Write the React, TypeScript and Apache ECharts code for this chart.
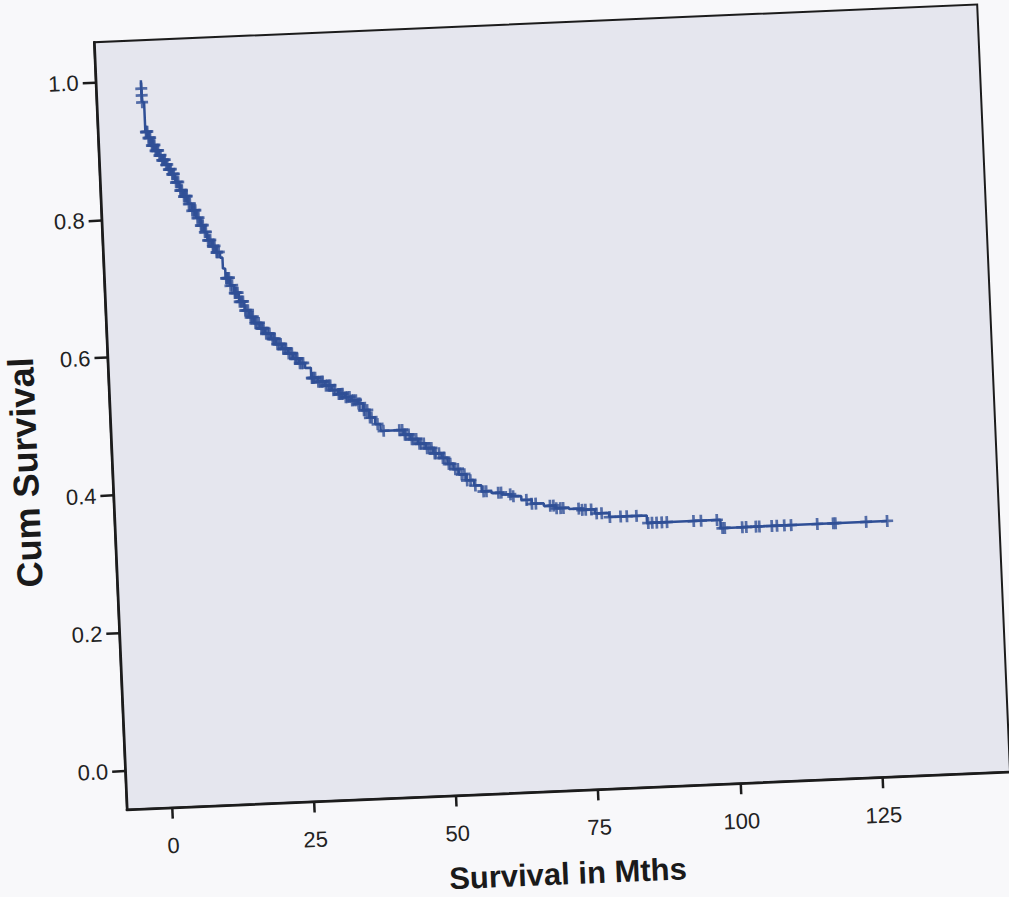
import React, { useEffect, useRef } from "react";
import * as echarts from "echarts";

// Kaplan-Meier steps: time of event (months) and survival after the step
const eventTimes = [
  0, 0.02, 0.04, 0.4, 0.9, 1.4, 2.0, 2.6, 3.1, 3.7, 4.2, 4.7, 5.3, 6.0, 6.6, 7.3, 8.0, 8.7, 9.4, 10.0,
  10.5, 11.2, 11.9, 12.6, 13.0, 13.4, 14.1, 14.8, 15.6, 16.5, 17.3, 18.1, 19.0, 19.9, 20.9, 21.8, 22.8,
  23.8, 24.7, 25.7, 26.7, 27.7, 28.8, 30.0, 31.2, 32.3, 33.5, 34.6, 35.7, 36.6, 37.6, 38.6, 39.5, 43.5,
  44.7, 46.0, 47.3, 48.6, 50.0, 51.0, 52.0, 52.9, 54.2, 55.5, 56.8, 58.5, 60.3, 62.0, 63.7, 65.5, 67.6,
  69.7, 72.0, 74.2, 76.5, 79.0, 85.6, 98.5,
];
const survivalAfter = [
  0.988, 0.978, 0.968, 0.925, 0.916, 0.905, 0.897, 0.89, 0.883, 0.876, 0.869, 0.862, 0.85, 0.838, 0.829,
  0.818, 0.808, 0.797, 0.786, 0.776, 0.764, 0.755, 0.746, 0.738, 0.722, 0.708, 0.697, 0.686, 0.673, 0.66,
  0.65, 0.641, 0.633, 0.625, 0.617, 0.609, 0.602, 0.595, 0.587, 0.58, 0.573, 0.558, 0.552, 0.546, 0.539,
  0.533, 0.528, 0.523, 0.518, 0.508, 0.497, 0.487, 0.477, 0.47, 0.463, 0.456, 0.449, 0.441, 0.434, 0.425,
  0.417, 0.409, 0.4, 0.392, 0.383, 0.38, 0.377, 0.374, 0.368, 0.362, 0.358, 0.354, 0.352, 0.35, 0.344,
  0.338, 0.327, 0.315,
];
const lastFollowUp = 127.8;

// censored cases (months)
const censorTimes = [
  0.01, 0.03, 0.05, 0.5, 0.6, 0.75, 0.9, 1.05, 1.2, 1.45, 1.6, 1.75, 1.9, 2.05, 2.2, 2.35, 2.5, 2.7, 2.9,
  3.15, 3.3, 3.45, 3.6, 3.8, 4.0, 4.25, 4.4, 4.6, 4.8, 4.95, 5.1, 5.4, 5.6, 5.8, 6.1, 6.25, 6.4, 6.7, 6.9,
  7.05, 7.2, 7.5, 7.7, 8.05, 8.3, 8.45, 8.6, 8.9, 9.1, 9.45, 9.6, 9.8, 10.1, 10.3, 10.6, 10.8, 11.0,
  11.4, 11.5, 11.7, 12.0, 12.1, 12.4, 13.5, 13.6, 13.8, 14.0, 14.2, 14.5, 14.9, 15.0, 15.2, 15.4, 15.7,
  15.9, 16.1, 16.3, 16.6, 16.8, 17.1, 17.5, 17.7, 17.9, 18.3, 18.5, 18.9, 19.3, 19.5, 19.7, 20.1, 20.4,
  20.7, 21.2, 21.4, 21.6, 22.0, 22.3, 22.6, 23.0, 23.3, 23.5, 23.9, 24.2, 24.5, 25.0, 25.2, 25.4, 25.8,
  26.1, 26.4, 27.8, 27.9, 28.1, 28.4, 28.9, 29.2, 29.5, 29.7, 30.2, 30.5, 30.8, 31.0, 31.5, 31.8, 32.4,
  32.6, 32.9, 33.1, 33.6, 33.9, 34.3, 34.7, 35.0, 35.4, 35.8, 36.1, 36.7, 36.9, 37.3, 37.7, 38.0, 39.0,
  40.0, 42.8, 43.3, 43.7, 43.9, 44.4, 44.9, 45.2, 45.7, 46.2, 46.5, 47.0, 47.5, 47.9, 48.3, 48.8, 49.0,
  49.6, 50.2, 50.5, 51.2, 51.5, 52.3, 52.8, 53.4, 53.9, 54.3, 54.9, 55.7, 57.1, 57.6, 59.7, 60.2, 61.8,
  62.3, 64.6, 65.5, 66.2, 68.7, 69.3, 69.8, 70.5, 71.0, 73.7, 74.3, 74.9, 75.9, 76.8, 77.7, 79.1, 81.0,
  82.1, 83.8, 85.8, 86.5, 87.3, 88.2, 89.1, 93.8, 95.1, 97.9, 98.8, 99.2, 102.3, 103.0, 104.7, 105.3,
  107.5, 108.4, 109.7, 110.9, 115.5, 118.3, 118.7, 124.1, 127.8,
];

const xTicks = [0, 25, 50, 75, 100, 125];
const yTicks = [0, 0.2, 0.4, 0.6, 0.8, 1.0];
const xTitle = "Survival in Mths";
const yTitle = "Cum Survival";

const LINE = "#2f4f96";
const PLUS = "path://M4.25,0h2.5v4.25h4.25v2.5h-4.25v4.25h-2.5v-4.25h-4.25v-2.5h4.25z";

function survAt(t: number): number {
  let s = 1;
  for (let i = 0; i < eventTimes.length; i++) {
    if (eventTimes[i] <= t) s = survivalAfter[i];
  }
  return s;
}

export default function App() {
  const ref = useRef<HTMLDivElement>(null);
  useEffect(() => {
    if (!ref.current) return;
    const chart = echarts.init(ref.current, undefined, { renderer: "svg" });
    const steps: number[][] = [[0, 1]];
    let prev = 1;
    eventTimes.forEach((t, i) => {
      steps.push([t, prev]);
      steps.push([t, survivalAfter[i]]);
      prev = survivalAfter[i];
    });
    steps.push([lastFollowUp, prev]);
    const censored = censorTimes.map((t) => [t, survAt(t)]);
    const font = "'Liberation Sans', Arial, sans-serif";
    chart.setOption({
      animation: false,
      grid: {
        left: 110,
        top: 23,
        width: 884,
        height: 768,
        show: true,
        backgroundColor: "#e5e6ee",
        borderColor: "#1c1c1c",
        borderWidth: 2,
      },
      graphic: [
        {
          type: "text",
          x: 548,
          y: 874,
          style: {
            text: xTitle,
            fill: "#1a1a1a",
            font: `bold 31px ${font}`,
            align: "center",
            verticalAlign: "middle",
          },
        },
        {
          type: "text",
          x: 23,
          y: 450,
          rotation: Math.PI / 2,
          style: {
            text: yTitle,
            fill: "#1a1a1a",
            font: `bold 36px ${font}`,
            align: "center",
            verticalAlign: "middle",
          },
        },
      ],
      xAxis: {
        type: "value",
        min: -7.95,
        max: 147.5,
        axisLine: { show: true, onZero: false, lineStyle: { color: "#1c1c1c", width: 2.5 } },
        axisTick: { show: true, customValues: xTicks, length: 11, lineStyle: { color: "#1c1c1c", width: 2.5 } },
        axisLabel: { customValues: xTicks, fontSize: 22, color: "#222", margin: 27, fontFamily: font },
        splitLine: { show: false },
      },
      yAxis: {
        type: "value",
        min: -0.056,
        max: 1.058,
        axisLine: { show: true, onZero: false, lineStyle: { color: "#1c1c1c", width: 2.5 } },
        axisTick: { show: true, customValues: yTicks, length: 13, lineStyle: { color: "#1c1c1c", width: 2.5 } },
        axisLabel: {
          customValues: yTicks,
          fontSize: 22,
          color: "#222",
          margin: 17,
          fontFamily: font,
          formatter: (v: number) => v.toFixed(1),
        },
        splitLine: { show: false },
      },
      series: [
        {
          type: "line",
          data: steps,
          showSymbol: false,
          lineStyle: { color: LINE, width: 2.5 },
          silent: true,
        },
        {
          type: "scatter",
          data: censored,
          symbol: PLUS,
          symbolSize: 12,
          itemStyle: { color: LINE },
          silent: true,
        },
      ],
    });
    return () => chart.dispose();
  }, []);
  return (
    <div style={{ position: "fixed", left: 0, top: 0, width: 1009, height: 897, background: "#f8f8fa", overflow: "hidden" }}>
      <div
        ref={ref}
        style={{
          position: "absolute",
          left: 0,
          top: 0,
          width: 1009,
          height: 897,
          transform: "rotate(-2.45deg)",
          transformOrigin: "552px 407px",
        }}
      />
    </div>
  );
}
